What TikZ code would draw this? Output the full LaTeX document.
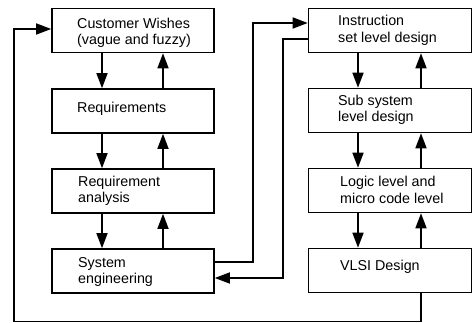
\documentclass[tikz,border=0pt]{standalone}
\usepackage{fontspec}
\setmainfont{Liberation Sans}
\usetikzlibrary{arrows.meta}
\begin{document}
\begin{tikzpicture}[x=1pt,y=-1pt,
  box/.style={draw,line width=1.6pt,rectangle,inner sep=0pt},
  lbox/.style={box,minimum width=162pt,minimum height=44pt},
  rbox/.style={box,minimum width=163pt,minimum height=44pt},
  txt/.style={anchor=west,align=left,inner sep=0pt,font=\fontsize{14.3pt}{16.5pt}\selectfont},
  conn/.style={line width=1.6pt},
  arr/.style={conn,-{Triangle[length=15pt,width=11pt]}}]
\useasboundingbox (0,0) rectangle (473,323);
% left column
\node[lbox] (cw) at (133,30.5) {};
\node[txt] (cwt) at (77,33) {Customer Wishes\\(vague and fuzzy)};
\node[lbox] (rq) at (133,111) {};
\node[txt] (rqt) at (77,109) {Requirements};
\node[lbox] (ra) at (133,191) {};
\node[txt] (rat) at (78,191) {Requirement\\analysis};
\node[lbox] (se) at (133,271) {};
\node[txt] (set) at (78,272) {System\\engineering};
% right column
\node[rbox] (is) at (390,30.5) {};
\node[txt] (ist) at (338,30.5) {Instruction\\set level design};
\node[rbox] (ss) at (390,110.5) {};
\node[txt] (sst) at (338,110) {Sub system\\level design};
\node[rbox] (ll) at (390,190.5) {};
\node[txt] (llt) at (340,190) {Logic level and\\micro code level};
\node[rbox] (vl) at (390,270.5) {};
\node[txt] (vlt) at (340,267) {VLSI Design};
% left vertical arrows
\foreach \a/\b in {cw/rq,rq/ra,ra/se}{
  \draw[arr] (\a.south -| 102,0) -- (\b.north -| 102,0);
  \draw[arr] (\b.north -| 163,0) -- (\a.south -| 163,0);
}
% right vertical arrows
\foreach \a/\b in {is/ss,ss/ll,ll/vl}{
  \draw[arr] (\a.south -| 358,0) -- (\b.north -| 358,0);
  \draw[arr] (\b.north -| 421,0) -- (\a.south -| 421,0);
}
% feedback loop
\coordinate (b1) at (421,321.5);
\coordinate (b2) at (14,321.5);
\coordinate (b3) at (14,29);
\draw[arr] (vl.south -| b1) -- (b1) -- (b2) -- (b3) -- (cw.west |- b3);
% system engineering <-> instruction set
\coordinate (s1) at (253,262);
\coordinate (s2) at (253,23);
\draw[arr] (se.east |- s1) -- (s1) -- (s2) -- (is.west |- s2);
\coordinate (t1) at (283,39);
\coordinate (t2) at (283,278);
\draw[arr] (is.west |- t1) -- (t1) -- (t2) -- (se.east |- t2);
\end{tikzpicture}
\end{document}
